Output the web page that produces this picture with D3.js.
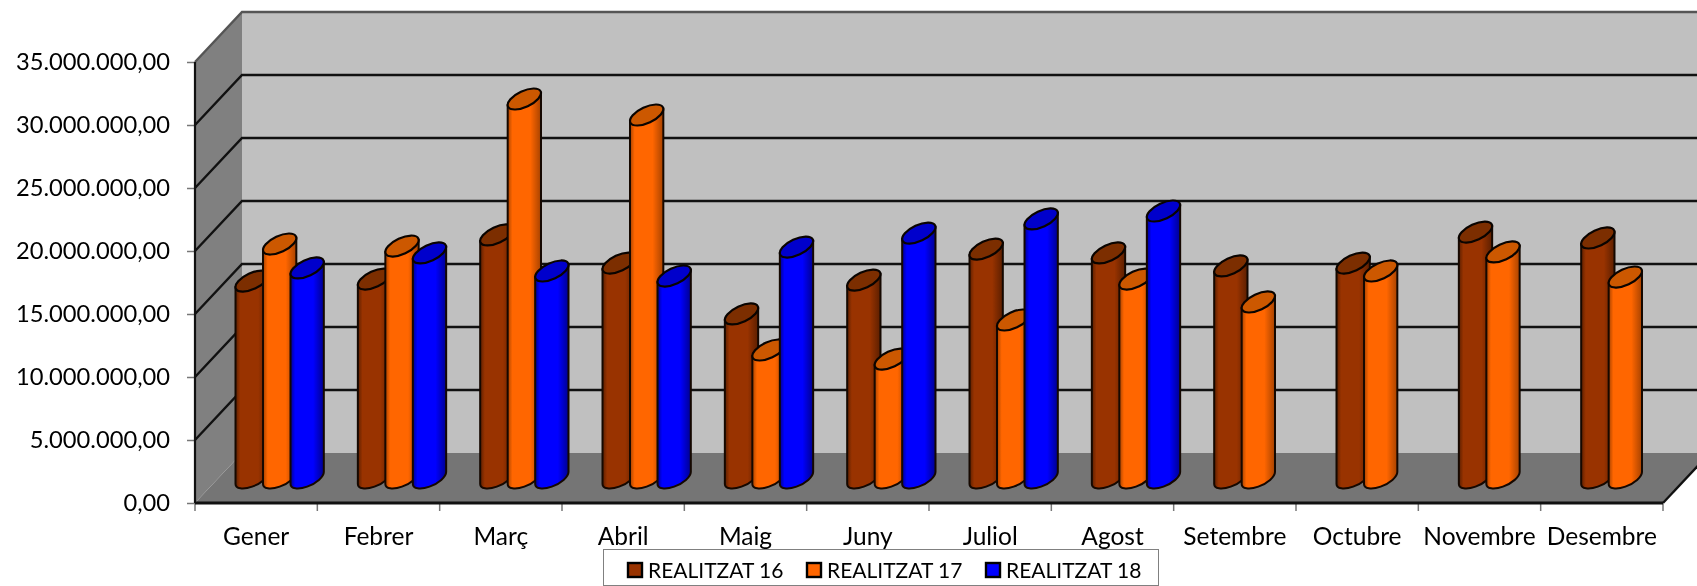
<!DOCTYPE html>
<html>
<head>
<meta charset="utf-8">
<script src="https://cdn.jsdelivr.net/npm/d3@7"></script>
<style>
	body { margin: 0; background: #fff; }
	svg { display: block; filter: blur(0.5px); }
	text { font-family: Lato, sans-serif; fill: #000; }
</style>
</head>
<body>
<div id="chart"></div>
<script>
var months = ["Gener","Febrer","Març","Abril","Maig","Juny","Juliol","Agost","Setembre","Octubre","Novembre","Desembre"];
var seriesNames = ["REALITZAT 16","REALITZAT 17","REALITZAT 18"];

// values
var realitzat16 = [15630000,15790000,19290000,17060000,13020000,15710000,18170000,17860000,16830000,17060000,19520000,19050000];
var realitzat17 = [18570000,18410000,30080000,28810000,10160000,9440000,12540000,15790000,13970000,16430000,17940000,15950000];
var realitzat18 = [16670000,17860000,16430000,16030000,18330000,19440000,20560000,21190000,null,null,null,null];

var yTicks = [0,5000000,10000000,15000000,20000000,25000000,30000000,35000000];

var colors = ["#993300","#ff6600","#0000ff"];
var darkEdge = ["#5c1f00","#a84300","#000090"];
var topColors = ["#7c2e00","#cc5800","#0000cc"];

var width = 1697, height = 586;
var depthX = 47, depthY = 50;

var x = d3.scaleBand().domain(months).range([195,1663]);
var y = d3.scaleLinear().domain([0,35000000]).range([503,62]);
var slot = d3.scalePoint().domain(seriesNames).range([-27.5,27.5]);

var euro = d3.formatLocale({decimal:",",thousands:".",grouping:[3],currency:["",""]}).format(",.2f");

var svg = d3.select("#chart").append("svg")
	.attr("width",width)
	.attr("height",height);

//gradients for the cylinders
var defs = svg.append("defs");
seriesNames.forEach(function(s,i){
	var g = defs.append("linearGradient").attr("id","cyl"+i);
	g.append("stop").attr("offset","0%").attr("stop-color",darkEdge[i]);
	g.append("stop").attr("offset","14%").attr("stop-color",colors[i]);
	g.append("stop").attr("offset","68%").attr("stop-color",colors[i]);
	g.append("stop").attr("offset","100%").attr("stop-color",darkEdge[i]);
});

var x0 = x.range()[0], x1 = x.range()[1], y0 = y(0), yTop = y(35000000);

//walls and floor
svg.append("polygon")
	.attr("points",[[x0,y0],[x0,yTop],[x0+depthX,yTop-depthY],[x0+depthX,y0-depthY]].join(" "))
	.style("fill","#808080");
svg.append("rect")
	.attr("x",x0+depthX)
	.attr("y",yTop-depthY)
	.attr("width",x1-x0)
	.attr("height",y0-yTop)
	.style("fill","#c0c0c0");
svg.append("polygon")
	.attr("points",[[x0,y0],[x0+depthX,y0-depthY],[x1+depthX,y0-depthY],[x1,y0]].join(" "))
	.style("fill","#757575");

//gridlines
svg.append("g").selectAll("path")
	.data(yTicks.filter(function(d){ return d > 0; }))
	.enter()
	.append("path")
	.attr("d",function(d){
		return "M"+x0+","+y(d)+"L"+(x0+depthX)+","+(y(d)-depthY)+"L"+(x1+depthX)+","+(y(d)-depthY);
	})
	.style("fill","none")
	.style("stroke",function(d){ return d === 35000000 ? "#555" : "#111"; })
	.style("stroke-width",2.4);

svg.append("path")
	.attr("d","M"+x1+","+y0+"L"+(x1+depthX)+","+(y0-depthY))
	.style("fill","none")
	.style("stroke","#111")
	.style("stroke-width",2.4);

//axes
var yAxis = svg.append("g")
	.attr("transform","translate("+x0+",0)")
	.call(d3.axisLeft(y).tickValues(yTicks).tickFormat(euro).tickSize(8).tickPadding(17));
yAxis.select(".domain").remove();
yAxis.selectAll("line").style("stroke","#777").style("stroke-width",1.5);
yAxis.selectAll("text").style("font-family","Lato, sans-serif").style("font-size","23.7px");

var xAxis = svg.append("g")
	.attr("transform","translate(0,"+y0+")")
	.call(d3.axisBottom(x).tickSize(0).tickPadding(25));
xAxis.select(".domain").remove();
xAxis.selectAll("text").style("font-family","Lato, sans-serif").style("font-size","24.5px");

svg.append("g").selectAll("line")
	.data(d3.range(months.length+1))
	.enter()
	.append("line")
	.attr("x1",function(i){ return x0 + i*x.step(); })
	.attr("x2",function(i){ return x0 + i*x.step(); })
	.attr("y1",y0)
	.attr("y2",y0+8)
	.style("stroke","#777")
	.style("stroke-width",1.5);

svg.append("line").attr("x1",x0).attr("x2",x0).attr("y1",yTop).attr("y2",y0)
	.style("stroke","#111").style("stroke-width",2.2);
svg.append("line").attr("x1",x0).attr("x2",x1).attr("y1",y0).attr("y2",y0)
	.style("stroke","#111").style("stroke-width",3);

//cylinders, slanted ellipse on top and bottom
var rx = 18, ry = 8, tilt = 25;
var rad = tilt*Math.PI/180;
var halfW = Math.sqrt(rx*rx*Math.cos(rad)*Math.cos(rad) + ry*ry*Math.sin(rad)*Math.sin(rad));
var tangentY = (rx*rx-ry*ry)*Math.sin(rad)*Math.cos(rad)/halfW;

function cylinderPath(cx,cyTop,cyBase){
	return "M"+(cx-halfW)+","+(cyTop+tangentY)
		+"L"+(cx-halfW)+","+(cyBase+tangentY)
		+"A"+rx+","+ry+",-"+tilt+",0,0,"+(cx+halfW)+","+(cyBase-tangentY)
		+"L"+(cx+halfW)+","+(cyTop-tangentY)
		+"Z";
}

var bars = [];
[realitzat16,realitzat17,realitzat18].forEach(function(vals,s){
	vals.forEach(function(v,m){
		if (v !== null) bars.push({month:months[m],series:s,value:v});
	});
});

function barX(d){ return x(d.month) + x.bandwidth()/2 + depthX/2 + slot(seriesNames[d.series]); }

var bar = svg.append("g").selectAll("g")
	.data(bars)
	.enter()
	.append("g");

bar.append("path")
	.attr("d",function(d){ return cylinderPath(barX(d),y(d.value)-depthY/2,y0-depthY/2); })
	.style("fill",function(d){ return "url(#cyl"+d.series+")"; })
	.style("stroke","#150800")
	.style("stroke-width",2);

bar.append("ellipse")
	.attr("rx",rx)
	.attr("ry",ry)
	.attr("transform",function(d){ return "translate("+barX(d)+","+(y(d.value)-depthY/2)+") rotate(-"+tilt+")"; })
	.style("fill",function(d){ return topColors[d.series]; })
	.style("stroke","#0a0400")
	.style("stroke-width",2.2);

//legend
var legend = svg.append("g");
legend.append("rect")
	.attr("x",603.5)
	.attr("y",549.5)
	.attr("width",555)
	.attr("height",36)
	.style("fill","#fff")
	.style("stroke","#808080")
	.style("stroke-width",1);

var legendX = d3.scalePoint().domain(seriesNames).range([628,986]);
var item = legend.selectAll("g")
	.data(seriesNames)
	.enter()
	.append("g")
	.attr("transform",function(d){ return "translate("+legendX(d)+",563)"; });
item.append("rect")
	.attr("width",14)
	.attr("height",14)
	.style("fill",function(d,i){ return colors[i]; })
	.style("stroke","#000")
	.style("stroke-width",2.4);
item.append("text")
	.attr("x",20)
	.attr("y",15)
	.style("font-size","21px")
	.text(function(d){ return d; });
</script>
</body>
</html>
